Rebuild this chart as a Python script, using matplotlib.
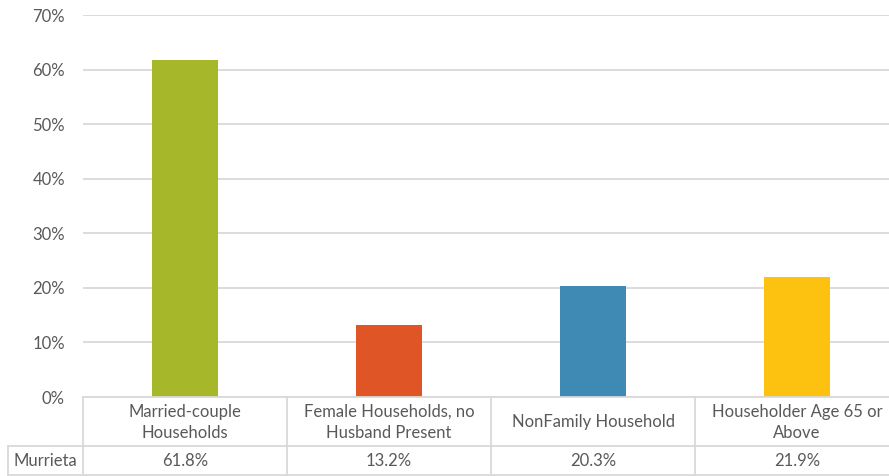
import matplotlib
matplotlib.use("Agg")
import matplotlib.pyplot as plt
from matplotlib.lines import Line2D

categories = ["Married-couple\nHouseholds", "Female Households, no\nHusband Present",
              "NonFamily Household", "Householder Age 65 or\nAbove"]
series_name = "Murrieta"
values = [61.8, 13.2, 20.3, 21.9]
value_labels = ["61.8%", "13.2%", "20.3%", "21.9%"]
colors = ["#A6B82A", "#E05526", "#3F8AB5", "#FDC20F"]
yticks = [0, 10, 20, 30, 40, 50, 60, 70]

W, H = 889, 476
plt.rcParams["font.family"] = ["Lato", "DejaVu Sans"]
text_color = "#595959"
grid_color = "#D9D9D9"
fs = 12

fig = plt.figure(figsize=(W / 100, H / 100), dpi=100)

# plot area in pixel terms (right edge runs past the canvas)
left_px, right_px, top_px, base_px = 83, 899, 15, 397
ax = fig.add_axes([left_px / W, (H - base_px) / H,
                   (right_px - left_px) / W, (base_px - top_px) / H])

x = range(len(values))
ax.bar(x, values, width=0.32, color=colors, zorder=3)
ax.set_xlim(-0.5, len(values) - 0.5)
ax.set_ylim(0, 70)
ax.set_yticks(yticks)
ax.set_yticklabels([f"{t}%" for t in yticks], color=text_color, fontsize=fs)
ax.tick_params(axis="y", length=0, pad=13)
ax.set_xticks([])
ax.yaxis.grid(True, color=grid_color, linewidth=1.3, zorder=0)
for s in ax.spines.values():
    s.set_visible(False)

# data table beneath the plot
def fy(py):
    return (H - py) / H

def fx(px):
    return px / W

row1_bottom, row2_bottom = 446, 475
murrieta_left = 8
lines = []
lines.append(Line2D([fx(left_px), 1], [fy(base_px), fy(base_px)]))
lines.append(Line2D([fx(murrieta_left), 1], [fy(row1_bottom), fy(row1_bottom)]))
lines.append(Line2D([fx(murrieta_left), 1], [fy(row2_bottom), fy(row2_bottom)]))
lines.append(Line2D([fx(murrieta_left), fx(murrieta_left)], [fy(row1_bottom), fy(row2_bottom)]))
cell_w = (right_px - left_px) / len(values)
for i in range(len(values)):
    xp = left_px + i * cell_w
    lines.append(Line2D([fx(xp), fx(xp)], [fy(base_px), fy(row2_bottom)]))
for ln in lines:
    ln.set_color(grid_color)
    ln.set_linewidth(1.3)
    ln.set_transform(fig.transFigure)
    fig.add_artist(ln)

for i, (cat, lab) in enumerate(zip(categories, value_labels)):
    cx = left_px + (i + 0.5) * cell_w
    fig.text(fx(cx), fy((base_px + row1_bottom) / 2 + 1), cat, ha="center", va="center",
             fontsize=fs, color=text_color, linespacing=1.4)
    fig.text(fx(cx), fy((row1_bottom + row2_bottom) / 2 + 1), lab, ha="center", va="center",
             fontsize=fs, color=text_color)
fig.text(fx((murrieta_left + left_px) / 2), fy((row1_bottom + row2_bottom) / 2 + 1), series_name,
         ha="center", va="center", fontsize=fs, color=text_color)

fig.savefig("out.png", dpi=100)
